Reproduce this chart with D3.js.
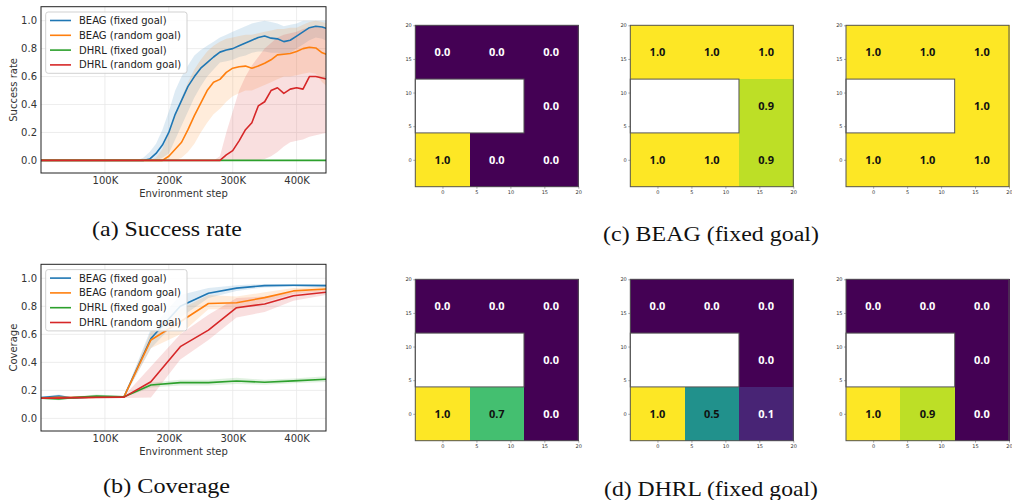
<!DOCTYPE html>
<html><head><meta charset="utf-8">
<script src="https://cdn.jsdelivr.net/npm/d3@7"></script>
<style>body{margin:0;background:#fff}svg{display:block}</style>
</head><body>
<svg id="c" width="1012" height="500"></svg>
<script>
// ---------- data ----------
const seriesNames = ["BEAG (fixed goal)", "BEAG (random goal)", "DHRL (fixed goal)", "DHRL (random goal)"];
const seriesColors = ["#1f77b4", "#ff7f0e", "#2ca02c", "#d62728"];

// success rate, evaluated every 10K steps
const srSteps = d3.range(0, 460000, 10000);
const srBeagFixed  = [0,0,0,0,0,0,0,0,0,0,0,0,0,0,0,0,0,0.01,0.05,0.11,0.2,0.33,0.43,0.53,0.6,0.66,0.7,0.74,0.775,0.79,0.8,0.82,0.84,0.86,0.88,0.89,0.875,0.87,0.85,0.86,0.89,0.92,0.95,0.96,0.955,0.94];
const srBeagRandom = [0,0,0,0,0,0,0,0,0,0,0,0,0,0,0,0,0,0,0,0,0.03,0.08,0.13,0.22,0.32,0.41,0.5,0.56,0.58,0.63,0.66,0.67,0.675,0.66,0.675,0.695,0.72,0.755,0.76,0.765,0.78,0.8,0.81,0.805,0.77,0.755];
const srDhrlFixed  = srSteps.map(() => 0);
const srDhrlRandom = [0,0,0,0,0,0,0,0,0,0,0,0,0,0,0,0,0,0,0,0,0,0,0,0,0,0,0,0,0,0.04,0.07,0.14,0.22,0.27,0.39,0.42,0.5,0.52,0.48,0.51,0.52,0.51,0.6,0.6,0.59,0.58];
const srBeagFixedLo  = [0,0,0,0,0,0,0,0,0,0,0,0,0,0,0,0,0,0,0,0.02,0.05,0.15,0.25,0.35,0.45,0.53,0.6,0.65,0.7,0.71,0.72,0.74,0.75,0.77,0.78,0.78,0.77,0.77,0.76,0.77,0.8,0.83,0.86,0.88,0.87,0.85];
const srBeagFixedHi  = [0,0,0,0,0,0,0,0,0,0,0,0,0,0,0,0,0.02,0.06,0.12,0.22,0.35,0.5,0.6,0.68,0.75,0.79,0.82,0.85,0.88,0.9,0.92,0.94,0.96,0.98,0.99,1.0,0.99,0.98,0.96,0.97,0.98,1.0,1.0,1.0,1.0,1.0];
const srBeagRandomLo = [0,0,0,0,0,0,0,0,0,0,0,0,0,0,0,0,0,0,0,0,0,0,0.02,0.06,0.12,0.2,0.27,0.33,0.37,0.42,0.46,0.48,0.5,0.5,0.52,0.54,0.56,0.58,0.6,0.6,0.61,0.62,0.63,0.62,0.56,0.52];
const srBeagRandomHi = [0,0,0,0,0,0,0,0,0,0,0,0,0,0,0,0,0,0,0.02,0.08,0.2,0.32,0.45,0.56,0.65,0.72,0.78,0.82,0.85,0.87,0.88,0.89,0.9,0.9,0.91,0.92,0.93,0.94,0.94,0.95,0.95,0.97,0.99,1.0,0.99,0.98];
const srDhrlRandomLo = [0,0,0,0,0,0,0,0,0,0,0,0,0,0,0,0,0,0,0,0,0,0,0,0,0,0,0,0,0,0,0,0,0,0,0,0.01,0.03,0.06,0.1,0.13,0.14,0.15,0.17,0.18,0.19,0.2];
const srDhrlRandomHi = [0,0,0,0,0,0,0,0,0,0,0,0,0,0,0,0,0,0,0,0,0,0,0,0,0,0,0,0,0.03,0.2,0.35,0.5,0.6,0.68,0.74,0.8,0.84,0.88,0.9,0.91,0.92,0.94,0.95,0.96,0.95,0.95];

// coverage
const cvSteps = [0, 28000, 50000, 87000, 130000, 172000, 218000, 262000, 306000, 350000, 395000, 446000];
const cvBeagFixed  = [0.148,0.16,0.145,0.155,0.155,0.57,0.8,0.893,0.93,0.948,0.95,0.948];
const cvBeagRandom = [0.145,0.15,0.148,0.152,0.155,0.56,0.69,0.82,0.826,0.862,0.91,0.924];
const cvDhrlFixed  = [0.145,0.138,0.148,0.16,0.155,0.238,0.255,0.255,0.267,0.258,0.268,0.279];
const cvDhrlRandom = [0.145,0.145,0.148,0.15,0.152,0.262,0.512,0.63,0.79,0.817,0.876,0.9];
const cvBeagFixedLo  = [0.14,0.15,0.14,0.15,0.15,0.5,0.72,0.86,0.91,0.935,0.94,0.935];
const cvBeagFixedHi  = [0.155,0.17,0.15,0.165,0.16,0.64,0.88,0.93,0.95,0.96,0.96,0.96];
const cvBeagRandomLo = [0.14,0.145,0.14,0.145,0.15,0.5,0.6,0.78,0.78,0.83,0.89,0.91];
const cvBeagRandomHi = [0.15,0.155,0.155,0.16,0.16,0.62,0.78,0.88,0.87,0.9,0.93,0.94];
const cvDhrlFixedLo  = [0.14,0.13,0.14,0.15,0.15,0.22,0.235,0.235,0.245,0.24,0.25,0.26];
const cvDhrlFixedHi  = [0.15,0.145,0.155,0.17,0.16,0.255,0.275,0.275,0.29,0.275,0.285,0.3];
const cvDhrlRandomLo = [0.14,0.14,0.14,0.145,0.145,0.15,0.42,0.56,0.72,0.76,0.84,0.88];
const cvDhrlRandomHi = [0.15,0.15,0.155,0.155,0.16,0.37,0.6,0.74,0.86,0.87,0.9,0.92];

const yTicks = [0, 0.2, 0.4, 0.6, 0.8, 1.0];
const xTicks = [100000, 200000, 300000, 400000];
const xTickLabels = ["100K", "200K", "300K", "400K"];

// heatmaps
const cellCenters = [[0,16],[8,16],[16,16],[16,8],[0,0],[8,0],[16,0]];
const beagFixedCoverage = [[0,0,0,0,1.0,0,0],[1.0,1.0,1.0,0.9,1.0,1.0,0.9],[1.0,1.0,1.0,1.0,1.0,1.0,1.0]];
const dhrlFixedCoverage = [[0,0,0,0,1.0,0.7,0],[0,0,0,0,1.0,0.5,0.1],[0,0,0,0,1.0,0.9,0]];
const heatTicks = [0, 5, 10, 15, 20];
const captions = ["(a) Success rate", "(b) Coverage", "(c) BEAG (fixed goal)", "(d) DHRL (fixed goal)"];

// ---------- drawing ----------
const svg = d3.select("#c");
const FONT = "DejaVu Sans, sans-serif";

function lineChart(id, yTop, yBot, steps, means, los, his, ylabel) {
  const x = d3.scaleLinear().domain([0, 446000]).range([41, 326]);
  const y = d3.scaleLinear().domain([-0.09, 1.1]).range([yBot, yTop]);
  const g = svg.append("g");
  g.append("clipPath").attr("id", id).append("rect")
    .attr("x", x.range()[0]).attr("y", yTop).attr("width", x.range()[1]-x.range()[0]).attr("height", yBot-yTop);
  g.selectAll(".gy").data(yTicks).join("line")
    .attr("x1", x.range()[0]).attr("x2", x.range()[1]).attr("y1", d => y(d)).attr("y2", d => y(d))
    .attr("stroke", "#e8e8e8").attr("stroke-width", 0.8);
  g.selectAll(".gx").data(xTicks).join("line")
    .attr("y1", yTop).attr("y2", yBot).attr("x1", d => x(d)).attr("x2", d => x(d))
    .attr("stroke", "#e8e8e8").attr("stroke-width", 0.8);
  const plot = g.append("g").attr("clip-path", `url(#${id})`);
  los.forEach((lo, i) => {
    if (!lo) return;
    const hi = his[i];
    const area = d3.area().x((d, j) => x(steps[j])).y0((d, j) => y(lo[j])).y1((d, j) => y(hi[j]));
    plot.append("path").datum(lo).attr("d", area).attr("fill", seriesColors[i]).attr("fill-opacity", 0.15);
  });
  const line = d3.line().x((d, j) => x(steps[j])).y(d => y(d));
  means.forEach((m, i) => {
    plot.append("path").datum(m).attr("d", line).attr("fill", "none")
      .attr("stroke", seriesColors[i]).attr("stroke-width", 1.6).attr("stroke-linejoin", "round");
  });
  g.append("rect").attr("x", x.range()[0]).attr("y", yTop).attr("width", x.range()[1]-x.range()[0]).attr("height", yBot-yTop)
    .attr("fill", "none").attr("stroke", "#222").attr("stroke-width", 1);
  const ay = g.append("g").attr("transform", `translate(${x.range()[0]},0)`)
    .call(d3.axisLeft(y).tickValues(yTicks).tickFormat(d3.format(".1f")).tickSize(0).tickPadding(4));
  ay.select(".domain").remove();
  ay.selectAll("text").attr("font-family", FONT).attr("font-size", 10).attr("fill", "#333");
  const ax = g.append("g").attr("transform", `translate(0,${yBot})`)
    .call(d3.axisBottom(x).tickValues(xTicks).tickFormat((d, i) => xTickLabels[i]).tickSize(0).tickPadding(4));
  ax.select(".domain").remove();
  ax.selectAll("text").attr("font-family", FONT).attr("font-size", 10).attr("fill", "#333");
  g.append("text").attr("x", 183.5).attr("y", yBot + 23.5).attr("text-anchor", "middle")
    .attr("font-family", FONT).attr("font-size", 10).attr("fill", "#333").text("Environment step");
  g.append("text").attr("transform", `translate(16.5,${(yTop+yBot)/2}) rotate(-90)`).attr("text-anchor", "middle")
    .attr("font-family", FONT).attr("font-size", 10).attr("fill", "#333").text(ylabel);
  const lg = g.append("g").attr("transform", `translate(0,${yTop})`);
  lg.append("rect").attr("x", 45.7).attr("y", 5.3).attr("width", 141.3).attr("height", 61.3).attr("rx", 2.5)
    .attr("fill", "#fff").attr("fill-opacity", 0.85).attr("stroke", "#cccccc").attr("stroke-width", 0.9);
  seriesNames.forEach((n, i) => {
    const yy = 13.8 + i * 14.8;
    lg.append("line").attr("x1", 50).attr("x2", 71).attr("y1", yy).attr("y2", yy)
      .attr("stroke", seriesColors[i]).attr("stroke-width", 1.6);
    lg.append("text").attr("x", 79).attr("y", yy + 3.6).attr("font-family", FONT).attr("font-size", 10)
      .attr("fill", "#222").text(n);
  });
}

lineChart("clipA", 6.7, 173, srSteps,
  [srBeagFixed, srBeagRandom, srDhrlFixed, srDhrlRandom],
  [srBeagFixedLo, srBeagRandomLo, null, srDhrlRandomLo],
  [srBeagFixedHi, srBeagRandomHi, null, srDhrlRandomHi], "Success rate");
lineChart("clipB", 264.3, 431, cvSteps,
  [cvBeagFixed, cvBeagRandom, cvDhrlFixed, cvDhrlRandom],
  [cvBeagFixedLo, cvBeagRandomLo, cvDhrlFixedLo, cvDhrlRandomLo],
  [cvBeagFixedHi, cvBeagRandomHi, cvDhrlFixedHi, cvDhrlRandomHi], "Coverage");

function heatmap(x0, y0, vals) {
  const size = 163;
  const x = d3.scaleLinear().domain([-4, 20]).range([x0, x0 + size]);
  const y = d3.scaleLinear().domain([-4, 20]).range([y0 + 161.4, y0]);
  const g = svg.append("g");
  const half = 4;
  g.selectAll("rect.cell").data(vals).join("rect")
    .attr("x", (d, i) => x(cellCenters[i][0] - half))
    .attr("y", (d, i) => y(cellCenters[i][1] + half))
    .attr("width", (d, i) => x(cellCenters[i][0] + half) - x(cellCenters[i][0] - half) + 0.6)
    .attr("height", (d, i) => y(cellCenters[i][1] - half) - y(cellCenters[i][1] + half) + 0.6)
    .attr("shape-rendering", "crispEdges")
    .attr("fill", d => d3.interpolateViridis(d));
  g.selectAll("text.v").data(vals).join("text")
    .attr("x", (d, i) => x(cellCenters[i][0]))
    .attr("y", (d, i) => y(cellCenters[i][1]) + 4)
    .attr("text-anchor", "middle").attr("font-family", "Open Sans, sans-serif").attr("font-weight", "bold")
    .attr("font-size", 11).attr("fill", d => d >= 0.5 ? "#111" : "#fff")
    .text(d => d.toFixed(1));
  g.append("rect").attr("x", x(-4)).attr("y", y(12)).attr("width", x(12) - x(-4)).attr("height", y(4) - y(12))
    .attr("fill", "#fff").attr("stroke", "#555").attr("stroke-width", 1);
  g.append("rect").attr("x", x(-4)).attr("y", y(20)).attr("width", size).attr("height", y(-4) - y(20))
    .attr("fill", "none").attr("stroke", "#555").attr("stroke-width", 1);
  const ax = g.append("g").attr("transform", `translate(0,${y(-4)})`)
    .call(d3.axisBottom(x).tickValues(heatTicks).tickSize(2).tickPadding(1.5));
  ax.select(".domain").remove();
  ax.selectAll("line").attr("stroke", "#555").attr("stroke-width", 0.5);
  ax.selectAll("text").attr("font-family", FONT).attr("font-size", 5).attr("fill", "#333");
  const ay = g.append("g").attr("transform", `translate(${x(-4)},0)`)
    .call(d3.axisLeft(y).tickValues(heatTicks).tickSize(2).tickPadding(1.5));
  ay.select(".domain").remove();
  ay.selectAll("line").attr("stroke", "#555").attr("stroke-width", 0.5);
  ay.selectAll("text").attr("font-family", FONT).attr("font-size", 5).attr("fill", "#333");
}
const heatX = [415.3, 630.3, 846];
beagFixedCoverage.forEach((v, i) => heatmap(heatX[i], 25.3, v));
dhrlFixedCoverage.forEach((v, i) => heatmap(heatX[i], 279.3, v));

// captions: glyphs stretched horizontally to the width seen in the reference
const capPos = [[167, 235.5, 150], [166.5, 492.5, 127], [711, 240.5, 216], [711, 496, 214]];
captions.forEach((c, i) => {
  const t = svg.append("text").attr("text-anchor", "middle")
    .attr("font-family", "Liberation Serif, Times New Roman, serif").attr("font-size", 20)
    .attr("fill", "#111").text(c);
  const w = t.node().getComputedTextLength();
  const sx = capPos[i][2] / w;
  t.attr("transform", `translate(${capPos[i][0]},${capPos[i][1]}) scale(${sx},1)`);
});
</script>
</body></html>
